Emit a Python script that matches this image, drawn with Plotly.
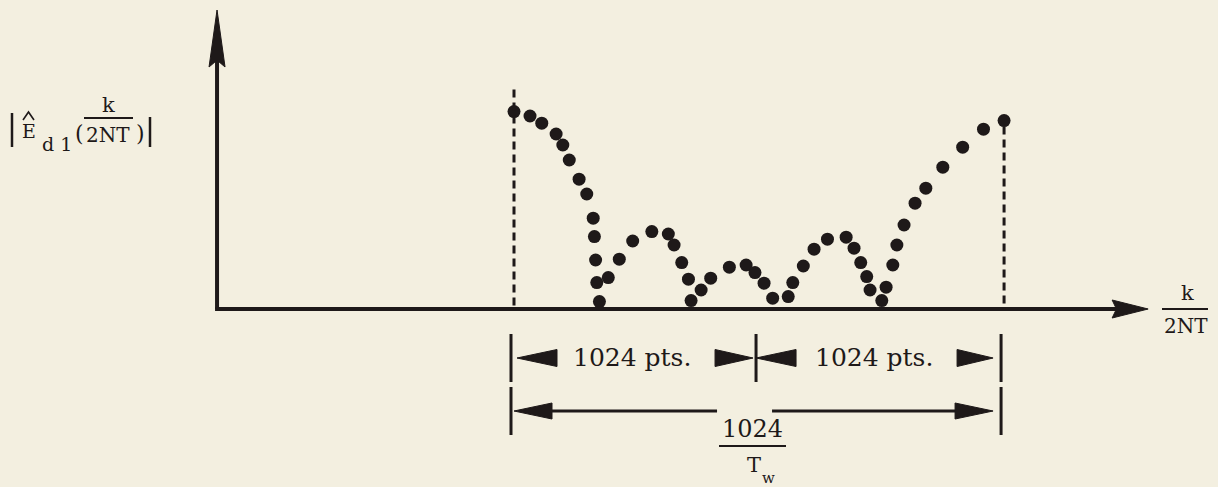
import plotly.graph_objects as go

# ---------------- data ----------------
# spectral bin index across the two 1024-point blocks, and |E_d1| magnitude
bin_index = [0, 67, 116, 176, 204, 231, 272, 304, 331, 336, 341, 346, 357,
             394, 440, 496, 576, 645, 669, 701, 729, 740, 782, 822, 900, 970,
             1007, 1045, 1081, 1146, 1165, 1209, 1254, 1310, 1388, 1421, 1449,
             1474, 1488, 1537, 1555, 1583, 1600, 1630, 1676, 1721, 1792, 1875,
             1962, 2048]
magnitude = [0.987, 0.965, 0.929, 0.875, 0.82, 0.745, 0.649, 0.575, 0.454,
             0.362, 0.245, 0.132, 0.037, 0.157, 0.249, 0.34, 0.387, 0.375,
             0.32, 0.232, 0.149, 0.042, 0.095, 0.154, 0.209, 0.22, 0.182,
             0.129, 0.054, 0.062, 0.132, 0.215, 0.299, 0.349, 0.359, 0.304,
             0.232, 0.162, 0.095, 0.042, 0.109, 0.22, 0.32, 0.42, 0.529,
             0.604, 0.709, 0.809, 0.899, 0.942]
block_marks = [0, 1024, 2048]          # window edges / block boundary
block_labels = ["1024 pts.", "1024 pts."]
window_label_num = "1024"

# ---------------- layout constants ----------------
W, H = 1218, 487
X_MIN, X_MAX = -2148, 2942
Y_MIN, Y_MAX = -0.89, 1.545
SX = (X_MAX - X_MIN) / W     # data units per pixel
SY = (Y_MAX - Y_MIN) / H
AXIS_X = -1241
AXIS_TOP = 1.495
AXIS_RIGHT = 2650
ROW1_Y = -0.245
ROW2_Y = -0.51

INK = "#1e1919"
BG = "#f3efe0"
FONT = "DejaVu Serif"

shapes = []


def seg(x0, y0, x1, y1, width=3.5, dash=None, ref="data"):
    d = dict(type="line", x0=x0, y0=y0, x1=x1, y1=y1,
             line=dict(color=INK, width=width))
    if dash:
        d["line"]["dash"] = dash
    if ref == "data":
        d.update(xref="x", yref="y")
    else:
        d.update(xref="paper", yref="paper",
                 x0=x0 / W, x1=x1 / W, y0=1 - y0 / H, y1=1 - y1 / H)
    shapes.append(d)


def head(tx, ty, dx, dy, length_px, half_px, notch=1.0):
    if dy == 0:
        bx, by = tx - dx * length_px * SX, ty
        px, py = 0, half_px * SY
        nx, ny = tx - dx * length_px * notch * SX, ty
    else:
        bx, by = tx, ty - dy * length_px * SY
        px, py = half_px * SX, 0
        nx, ny = tx, ty - dy * length_px * notch * SY
    path = (f"M {tx},{ty} L {bx + px},{by + py} L {nx},{ny} "
            f"L {bx - px},{by - py} Z")
    shapes.append(dict(type="path", xref="x", yref="y", path=path,
                       fillcolor=INK, line=dict(color=INK, width=1)))


# axes with arrows
seg(AXIS_X, 0, AXIS_X, AXIS_TOP - 40 * SY, width=4)
head(AXIS_X, AXIS_TOP, 0, 1, 57, 8, 0.88)
seg(AXIS_X - 2 * SX, 0, AXIS_RIGHT - 30 * SX, 0, width=4)
head(AXIS_RIGHT, 0, 1, 0, 36, 9, 0.88)

# dashed window edges
seg(block_marks[0], magnitude[0] + 0.11, block_marks[0], 0, width=3, dash="8px,5px")
seg(block_marks[-1], magnitude[-1] - 0.03, block_marks[-1], 0, width=3, dash="8px,5px")

# dimension row 1: |<- 1024 pts. ->|<- 1024 pts. ->|
for m in block_marks:
    seg(m - 3 * SX, ROW1_Y + 24 * SY, m - 3 * SX, ROW1_Y - 24 * SY, width=3)
L = block_marks[0]
M = block_marks[1] - 6 * SX
R = block_marks[2] - 3 * SX
head(L + 3 * SX, ROW1_Y, -1, 0, 40, 8.5)
head(M, ROW1_Y, 1, 0, 38, 8.5)
head(M + 3 * SX, ROW1_Y, -1, 0, 40, 8.5)
head(R - 8 * SX, ROW1_Y, 1, 0, 36, 8.5)

# dimension row 2: |<------ 1024/Tw ------>|
for m in (block_marks[0], block_marks[2]):
    seg(m - 3 * SX, ROW2_Y + 24 * SY, m - 3 * SX, ROW2_Y - 24 * SY, width=3)
head(L, ROW2_Y, -1, 0, 38, 8)
seg(L + 36 * SX, ROW2_Y, M - 36 * SX, ROW2_Y, width=3)
seg(M + 19 * SX, ROW2_Y, R - 44 * SX, ROW2_Y, width=3)
head(R - 8 * SX, ROW2_Y, 1, 0, 38, 8)

# fraction bars and absolute-value bars (pixel layout)
seg(12, 113, 12, 147, width=2.5, ref="px")
seg(150, 117, 150, 147, width=2.5, ref="px")
seg(84, 118, 133, 118, width=1.8, ref="px")
seg(1162, 309, 1208, 309, width=1.8, ref="px")
seg(719, 446, 786, 446, width=1.8, ref="px")
# hat over the E
shapes.append(dict(type="path", xref="paper", yref="paper",
                   path=(f"M {23 / W},{1 - 120 / H} L {28.5 / W},{1 - 112 / H} "
                         f"L {34 / W},{1 - 120 / H}"),
                   line=dict(color=INK, width=1.6)))

annotations = []


def txt(s, x, y, size=20):
    annotations.append(dict(text=s, x=x / W, y=1 - y / H, xref="paper",
                            yref="paper", showarrow=False, xanchor="center",
                            yanchor="middle",
                            font=dict(family=FONT, size=size, color=INK)))


# y-axis label |Ê_d1(k/2NT)|
txt("E", 29, 131, 19)
txt("d 1", 57, 144, 19)
txt("(", 79, 133, 22)
txt("k", 108, 105, 21)
txt("2NT", 108, 135, 20)
txt(")", 140, 133, 22)
# x-axis label k/2NT
txt("k", 1187, 293, 21)
txt("2NT", 1186, 326, 20)
# dimension labels
txt(block_labels[0], 632, 357, 25)
txt(block_labels[1], 874, 357, 25)
txt(window_label_num, 752, 429, 24)
txt("T", 754, 465, 21)
txt("w", 769, 478, 15)

fig = go.Figure()
fig.add_trace(go.Scatter(x=bin_index, y=magnitude, mode="markers",
                         marker=dict(size=13, color=INK, line=dict(width=0)),
                         hoverinfo="skip", showlegend=False))
fig.update_layout(
    width=W, height=H, margin=dict(l=0, r=0, t=0, b=0),
    paper_bgcolor=BG, plot_bgcolor=BG,
    xaxis=dict(range=[X_MIN, X_MAX], visible=False, fixedrange=True),
    yaxis=dict(range=[Y_MIN, Y_MAX], visible=False, fixedrange=True),
    shapes=shapes, annotations=annotations, showlegend=False,
)
fig.write_html(
    "out.html",
    config={"displayModeBar": False},
    post_script=("document.body.style.margin='0';"
                 "document.body.style.padding='0';"
                 "document.body.style.overflow='hidden';"
                 "document.body.style.background='" + BG + "';"),
)
